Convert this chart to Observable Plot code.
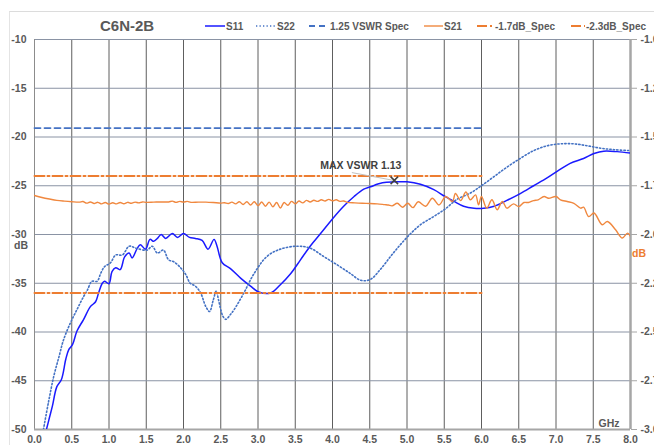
<!DOCTYPE html>
<html><head><meta charset="utf-8">
<script src="https://cdn.jsdelivr.net/npm/d3@7"></script>
<script src="https://cdn.jsdelivr.net/npm/@observablehq/plot@0.6"></script>
<style>
body{margin:0;background:#fff;font-family:"Liberation Sans",Arial,sans-serif;}
#wrap{position:relative;width:654px;height:445px;overflow:hidden;background:#fff;}
#border{position:absolute;left:9px;top:11px;width:700px;height:500px;border-top:1px solid #dcdcdc;border-left:1px solid #e4e4e4;}
#chart{position:absolute;left:0;top:0;}
#title{position:absolute;left:100px;top:17px;font-weight:bold;font-size:15px;color:#595959;}
#legend{position:absolute;left:0;top:19px;width:654px;height:14px;font-size:10px;font-weight:bold;color:#595959;white-space:nowrap;}
.item{position:absolute;top:0;display:flex;align-items:center;height:14px;}
.item svg{margin-right:1px;}
</style>
</head><body>
<div id="wrap"><div id="border"></div><div id="chart"></div><div id="title"></div><div id="legend"></div></div>
<script>
// ---- data ----
const title = "C6N-2B";
const xTicks = [0,0.5,1,1.5,2,2.5,3,3.5,4,4.5,5,5.5,6,6.5,7,7.5,8];
const yTicks = [-10,-15,-20,-25,-30,-35,-40,-45,-50];
const rightTicks = [-1.0,-1.25,-1.5,-1.75,-2.0,-2.25,-2.5,-2.75,-3.0];
const seriesNames = ["S11","S22","1.25 VSWR Spec","S21","-1.7dB_Spec","-2.3dB_Spec"];

// S11 [GHz, dB]
const s11 = [[0.16,-50],[0.20,-48.8],[0.24,-47.6],[0.30,-45.6],[0.36,-44.9],[0.42,-42.8],[0.46,-41.8],[0.51,-41.3],[0.57,-39.9],[0.66,-38.7],[0.75,-37.4],[0.82,-36.9],[0.86,-36.0],[0.91,-35.0],[0.94,-34.8],[1.00,-35.05],[1.04,-33.8],[1.09,-33.4],[1.15,-33.6],[1.21,-32.3],[1.27,-31.9],[1.31,-32.4],[1.38,-31.4],[1.42,-31.05],[1.49,-31.5],[1.55,-30.5],[1.60,-30.7],[1.65,-30.4],[1.70,-30.0],[1.76,-30.4],[1.85,-29.9],[1.92,-30.3],[2.00,-29.9],[2.08,-30.3],[2.16,-30.4],[2.25,-30.6],[2.33,-31.5],[2.41,-30.5],[2.45,-31.2],[2.52,-32.9],[2.63,-33.5],[2.77,-34.5],[2.90,-35.3],[3.01,-35.9],[3.17,-36.0],[3.30,-35.15],[3.44,-34.0],[3.57,-32.6],[3.70,-31.2],[3.84,-29.9],[4.01,-28.3],[4.15,-27.1],[4.29,-26.1],[4.42,-25.35],[4.51,-25.1],[4.67,-24.7],[4.82,-24.6],[5.00,-24.6],[5.18,-24.85],[5.36,-25.4],[5.51,-26.1],[5.63,-26.6],[5.76,-27.1],[5.90,-27.3],[6.03,-27.3],[6.17,-27.1],[6.34,-26.5],[6.52,-25.8],[6.70,-25.0],[6.88,-24.2],[7.02,-23.5],[7.19,-22.7],[7.37,-22.2],[7.51,-21.7],[7.64,-21.45],[7.82,-21.5],[8.00,-21.65]];

// S22 [GHz, dB]
const s22 = [[0.12,-50],[0.19,-47.1],[0.26,-44.5],[0.33,-42.5],[0.39,-40.8],[0.48,-39.1],[0.57,-37.7],[0.66,-36.35],[0.71,-35.7],[0.77,-34.8],[0.84,-34.8],[0.89,-33.95],[0.94,-33.3],[1.02,-32.9],[1.09,-32.1],[1.18,-32.1],[1.27,-31.2],[1.36,-31.4],[1.51,-31.6],[1.58,-31.2],[1.65,-31.9],[1.73,-31.6],[1.80,-32.6],[1.87,-32.8],[1.96,-33.4],[2.03,-34.1],[2.09,-35.0],[2.16,-35.3],[2.23,-36.0],[2.30,-37.4],[2.35,-37.9],[2.40,-36.7],[2.44,-35.8],[2.47,-36.7],[2.53,-38.4],[2.57,-38.7],[2.63,-38.2],[2.68,-37.7],[2.81,-36.0],[2.94,-34.1],[3.12,-32.25],[3.30,-31.5],[3.53,-31.2],[3.70,-31.4],[3.88,-32.25],[4.06,-33.1],[4.24,-34.0],[4.38,-34.7],[4.51,-34.6],[4.64,-33.6],[4.78,-32.25],[4.91,-31.05],[5.05,-29.9],[5.18,-29.0],[5.36,-28.15],[5.51,-27.4],[5.67,-26.4],[5.85,-25.75],[6.00,-25.0],[6.17,-24.05],[6.34,-23.1],[6.52,-22.2],[6.70,-21.4],[6.88,-20.9],[7.06,-20.7],[7.24,-20.7],[7.42,-20.9],[7.60,-21.15],[7.78,-21.3],[8.00,-21.4]];

// S21 [GHz, dB on right axis]
const s21 = [[0.00,-1.800],[0.10,-1.810],[0.20,-1.818],[0.30,-1.825],[0.40,-1.829],[0.50,-1.832],[0.60,-1.834],[0.65,-1.831],[0.70,-1.839],[0.75,-1.833],[0.80,-1.841],[0.85,-1.835],[0.90,-1.843],[0.95,-1.836],[1.00,-1.844],[1.05,-1.837],[1.10,-1.843],[1.15,-1.836],[1.20,-1.842],[1.25,-1.835],[1.30,-1.840],[1.35,-1.834],[1.40,-1.838],[1.45,-1.833],[1.50,-1.835],[1.60,-1.834],[1.70,-1.833],[1.80,-1.833],[1.85,-1.829],[1.90,-1.835],[1.95,-1.830],[2.00,-1.834],[2.05,-1.830],[2.10,-1.835],[2.20,-1.834],[2.30,-1.834],[2.40,-1.836],[2.50,-1.839],[2.55,-1.837],[2.60,-1.841],[2.65,-1.834],[2.70,-1.843],[2.75,-1.832],[2.80,-1.846],[2.85,-1.832],[2.90,-1.849],[2.95,-1.832],[3.00,-1.852],[3.05,-1.833],[3.10,-1.855],[3.15,-1.834],[3.20,-1.858],[3.25,-1.836],[3.30,-1.864],[3.35,-1.836],[3.40,-1.850],[3.45,-1.830],[3.50,-1.843],[3.55,-1.828],[3.60,-1.838],[3.65,-1.825],[3.70,-1.833],[3.75,-1.824],[3.80,-1.830],[3.85,-1.822],[3.90,-1.828],[3.95,-1.820],[4.00,-1.827],[4.05,-1.822],[4.10,-1.830],[4.15,-1.828],[4.20,-1.835],[4.30,-1.838],[4.40,-1.840],[4.50,-1.841],[4.60,-1.843],[4.70,-1.847],[4.75,-1.849],[4.80,-1.853],[4.87,-1.840],[4.94,-1.860],[5.01,-1.840],[5.08,-1.862],[5.15,-1.832],[5.25,-1.855],[5.34,-1.814],[5.43,-1.848],[5.52,-1.805],[5.61,-1.831],[5.65,-1.790],[5.72,-1.826],[5.79,-1.782],[5.85,-1.822],[5.92,-1.797],[5.96,-1.848],[6.00,-1.805],[6.07,-1.865],[6.14,-1.822],[6.21,-1.873],[6.28,-1.831],[6.34,-1.865],[6.43,-1.843],[6.50,-1.857],[6.57,-1.836],[6.63,-1.836],[6.70,-1.826],[6.76,-1.822],[6.84,-1.805],[6.90,-1.814],[7.00,-1.805],[7.06,-1.822],[7.15,-1.831],[7.24,-1.840],[7.33,-1.865],[7.37,-1.860],[7.44,-1.908],[7.51,-1.890],[7.62,-1.950],[7.69,-1.933],[7.80,-1.976],[7.89,-2.018],[7.96,-1.993],[8.00,-2.010]];

// spec lines
const vswrSpec = [[0,-19.08],[6,-19.08]];        // left axis dB
const spec17 = [[0,-1.7],[6,-1.7]];              // right axis dB
const spec23 = [[0,-2.3],[6,-2.3]];              // right axis dB

// annotation
const annoLabel = [{f:4.38, db:-22.95, label:"MAX VSWR 1.13"}];
const annoLeader = [{f1:4.26, d1:-23.65, f2:4.82, d2:-24.45}];
const annoMarker = [{f:4.83, db:-24.45}];

// ---- helpers ----
const toLeft = r => (r + 1) * 20 - 10;
const toRight = l => (l + 10) / 20 - 1;
const colors = {s11:"#1a1aff", s22:"#4472c4", vswr:"#4472c4", s21:"#f0883f", spec:"#ed7d31"};
const txt = "#595959";

const chart = Plot.plot({
  width:654, height:445,
  marginLeft:34, marginRight:24, marginTop:39, marginBottom:16,
  style:{fontFamily:"'Liberation Sans', Arial, sans-serif", fontSize:"10.5px", fontWeight:"bold", color:txt, background:"transparent", overflow:"visible"},
  x:{domain:[0,8]},
  y:{domain:[-50,-10]},
  marks:[
    Plot.gridX({ticks:xTicks, stroke:"#5e5e5e", strokeOpacity:1}),
    Plot.gridY({ticks:yTicks, stroke:"#8a93a4", strokeOpacity:1}),
    Plot.ruleX([0], {stroke:"#8c8c8c"}),
    Plot.ruleY([-50], {stroke:"#a6a6a6", strokeWidth:2}),
    Plot.ruleX([8], {stroke:"#a6a6a6", strokeWidth:2.5}),
    Plot.axisX({ticks:xTicks, tickFormat:d=>d.toFixed(1), tickSize:0, tickPadding:6, label:null, fill:txt}),
    Plot.axisY({ticks:yTicks, tickFormat:d=>String(d), tickSize:0, tickPadding:8, label:null, fill:txt}),
    Plot.axisY({anchor:"right", ticks:rightTicks.map(toLeft), tickFormat:d=>toRight(d).toFixed(2), tickSize:6, tickPadding:4, label:null, stroke:"#a6a6a6", fill:txt}),
    Plot.text(["dB"], {frameAnchor:"left", dx:-13.5, dy:11, textAnchor:"middle", fill:txt}),
    Plot.text(["dB"], {frameAnchor:"right", dx:8.5, dy:19, textAnchor:"middle", fill:colors.spec}),
    Plot.text(["GHz"], {frameAnchor:"bottom-right", dx:-11, dy:-6, textAnchor:"end", lineAnchor:"middle", fill:txt}),
    Plot.line(s11, {x:d=>d[0], y:d=>d[1], stroke:colors.s11, strokeWidth:1.5, curve:"catmull-rom", clip:true}),
    Plot.line(s22, {x:d=>d[0], y:d=>d[1], stroke:colors.s22, strokeWidth:1.6, strokeDasharray:"1.3,2.2", curve:"catmull-rom", clip:true}),
    Plot.line(vswrSpec, {x:d=>d[0], y:d=>d[1], stroke:colors.vswr, strokeWidth:1.8, strokeDasharray:"6,4"}),
    Plot.line(s21, {x:d=>d[0], y:d=>toLeft(d[1]), stroke:colors.s21, strokeWidth:1.4, curve:"catmull-rom", clip:true}),
    Plot.line(spec17, {x:d=>d[0], y:d=>toLeft(d[1]), stroke:colors.spec, strokeWidth:2, strokeDasharray:"10,3,2,3"}),
    Plot.line(spec23, {x:d=>d[0], y:d=>toLeft(d[1]), stroke:colors.spec, strokeWidth:2, strokeDasharray:"10,3,2,3"}),
    Plot.link(annoLeader, {x1:"f1", y1:"d1", x2:"f2", y2:"d2", stroke:"#bfbfbf", strokeWidth:1}),
    Plot.dot(annoMarker, {x:"f", y:"db", symbol:"times", r:3.5, stroke:"#404040", strokeWidth:1.5}),
    Plot.text(annoLabel, {x:"f", y:"db", text:"label", fill:"#404040", fontSize:10.5, fontWeight:"bold"})
  ]
});
document.getElementById("chart").appendChild(chart);
document.getElementById("title").textContent = title;

// legend (layout of the HTML legend, in pixels)
const legendLeft = [205, 256, 309, 424, 477, 571];
const swatches = [
  {stroke:colors.s11, dash:null, w:1.5, len:20},
  {stroke:colors.s22, dash:"1.3,2.2", w:1.6, len:20},
  {stroke:colors.vswr, dash:"6,4", w:1.8, len:20},
  {stroke:colors.s21, dash:null, w:1.4, len:19},
  {stroke:colors.spec, dash:"10,3,2,3", w:2, len:17},
  {stroke:colors.spec, dash:"10,3,2,3", w:2, len:14}
];
const leg = document.getElementById("legend");
seriesNames.forEach((name, i) => {
  const s = swatches[i];
  const item = document.createElement("div");
  item.className = "item";
  item.style.left = legendLeft[i] + "px";
  item.innerHTML = `<svg width="${s.len}" height="8"><line x1="0" y1="4" x2="${s.len}" y2="4" stroke="${s.stroke}" stroke-width="${s.w}" ${s.dash ? `stroke-dasharray="${s.dash}"` : ""}/></svg><span>${name}</span>`;
  leg.appendChild(item);
});
</script>
</body></html>
